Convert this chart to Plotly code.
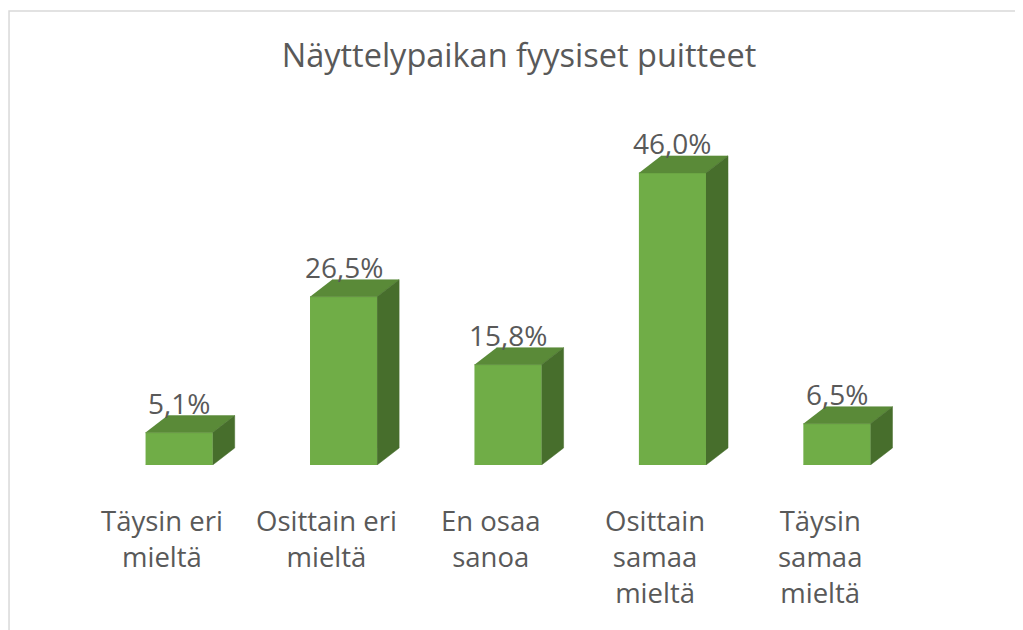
import plotly.graph_objects as go

categories = ["Täysin eri<br>mieltä", "Osittain eri<br>mieltä", "En osaa<br>sanoa",
              "Osittain<br>samaa<br>mieltä", "Täysin<br>samaa<br>mieltä"]
values = [5.1, 26.5, 15.8, 46.0, 6.5]
value_labels = ["5,1%", "26,5%", "15,8%", "46,0%", "6,5%"]

FRONT = "#70ad47"
TOP = "#5a8a38"
SIDE = "#476e2c"
TEXT = "#595959"
FONT = "Open Sans"

w = 0.204   # half width of front face (category units)
dx = 0.134  # depth offset in x
dy = 2.68   # depth offset in y (value units)

fig = go.Figure()
for i, v in enumerate(values):
    faces = [
        ([i - w, i + w, i + w, i - w], [0, 0, v, v], FRONT),
        ([i - w, i + w, i + w + dx, i - w + dx], [v, v, v + dy, v + dy], TOP),
        ([i + w, i + w + dx, i + w + dx, i + w], [0, dy, v + dy, v], SIDE),
    ]
    for xs, ys, c in faces:
        fig.add_trace(go.Scatter(x=xs, y=ys, fill="toself", fillcolor=c, mode="lines",
                                 line=dict(width=0.5, color=c), hoverinfo="skip",
                                 showlegend=False))
    fig.add_annotation(x=i, y=v, text=value_labels[i], showarrow=False, yanchor="middle",
                       yshift=30, font=dict(family=FONT, size=28, color=TEXT))
    fig.add_annotation(x=i, y=0, text=categories[i], showarrow=False, yanchor="top",
                       yshift=-35, xshift=-17, align="center",
                       font=dict(family=FONT, size=27.5, color=TEXT))

# outer chart border
fig.add_shape(type="rect", xref="paper", yref="paper", x0=-0.0619, y0=-0.6, x1=1.2, y1=1.1916,
              line=dict(color="#d9d9d9", width=1.5), fillcolor="rgba(0,0,0,0)")

fig.update_layout(
    width=1023, height=630,
    margin=dict(l=56, r=79, t=76, b=173),
    paper_bgcolor="white", plot_bgcolor="white",
    title=dict(text="Näyttelypaikan fyysiset puitteet", x=0.4995, xanchor="center",
               y=0.924, yanchor="middle", font=dict(family=FONT, size=32.5, color=TEXT)),
    xaxis=dict(range=[-0.7, 4.7], visible=False, fixedrange=True),
    yaxis=dict(range=[0, 60], visible=False, fixedrange=True),
)

fig.write_html("out.html")
